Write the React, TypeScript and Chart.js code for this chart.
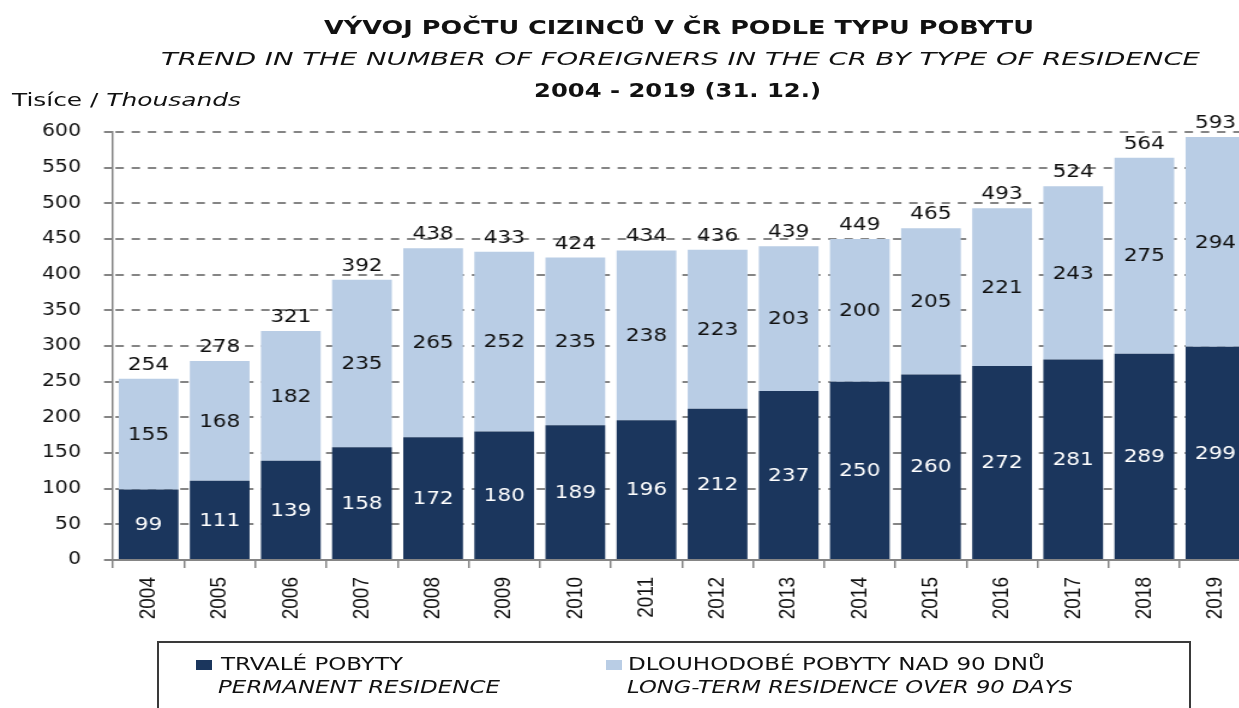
import React, { useEffect, useLayoutEffect, useRef } from "react";
import { Chart, registerables } from "chart.js";

Chart.register(...registerables);

const years = ["2004", "2005", "2006", "2007", "2008", "2009", "2010", "2011", "2012", "2013", "2014", "2015", "2016", "2017", "2018", "2019"];
const permanent = [99, 111, 139, 158, 172, 180, 189, 196, 212, 237, 250, 260, 272, 281, 289, 299];
const longTerm = [155, 168, 182, 235, 265, 252, 235, 238, 223, 203, 200, 205, 221, 243, 275, 294];
const totals = [254, 278, 321, 392, 438, 433, 424, 434, 436, 439, 449, 465, 493, 524, 564, 593];

const titleCz = "VÝVOJ POČTU CIZINCŮ V ČR PODLE TYPU POBYTU";
const titleEn = "TREND IN THE NUMBER OF FOREIGNERS IN THE CR BY TYPE OF RESIDENCE";
const titlePeriod = "2004 - 2019 (31. 12.)";
const unitCz = "Tisíce / ";
const unitEn = "Thousands";
const legendCz = ["TRVALÉ POBYTY", "DLOUHODOBÉ POBYTY NAD 90 DNŮ"];
const legendEn = ["PERMANENT RESIDENCE", "LONG-TERM RESIDENCE OVER 90 DAYS"];

const DARK = "#1B365D";
const LIGHT = "#B9CDE5";
const GRID = "#858585";
const SX = 1.2;
const FONT = "'DejaVu Sans', Verdana, sans-serif";

const dashedGridPlugin = {
  id: "dashedGrid",
  beforeDatasetsDraw(chart: any) {
    const ctx = chart.ctx;
    const y = chart.scales.y;
    const area = chart.chartArea;
    ctx.save();
    ctx.strokeStyle = GRID;
    ctx.lineWidth = 2;
    ctx.setLineDash([7, 6.5]);
    y.ticks.forEach((t: any) => {
      if (t.value === 0) return;
      const py = Math.round(y.getPixelForValue(t.value));
      ctx.beginPath();
      ctx.moveTo(area.left + 2, py);
      ctx.lineTo(area.right, py);
      ctx.stroke();
    });
    ctx.restore();
  },
};

const labelPlugin = {
  id: "barLabels",
  afterDatasetsDraw(chart: any) {
    const ctx = chart.ctx;
    ctx.save();
    ctx.font = `18px ${FONT}`;
    ctx.textAlign = "center";
    chart.data.datasets.forEach((ds: any, di: number) => {
      const meta = chart.getDatasetMeta(di);
      meta.data.forEach((bar: any, i: number) => {
        const yc = (bar.y + bar.base) / 2;
        ctx.fillStyle = di === 0 ? "#ffffff" : "#111111";
        ctx.textBaseline = "middle";
        ctx.fillText(String(ds.data[i]), bar.x, yc + 1);
      });
    });
    const topMeta = chart.getDatasetMeta(chart.data.datasets.length - 1);
    topMeta.data.forEach((bar: any, i: number) => {
      ctx.fillStyle = "#111111";
      ctx.textBaseline = "alphabetic";
      ctx.fillText(String(totals[i]), bar.x, bar.y - 9);
    });
    ctx.restore();
  },
};

function FitText({ left, top, width, style, children }: any) {
  const ref = useRef<HTMLSpanElement>(null);
  useLayoutEffect(() => {
    const el = ref.current;
    if (!el) return;
    el.style.transform = "none";
    const w = el.getBoundingClientRect().width;
    if (w > 0) el.style.transform = `scaleX(${width / w})`;
  }, [width]);
  return (
    <span
      ref={ref}
      style={{
        position: "absolute",
        left,
        top,
        whiteSpace: "nowrap",
        transformOrigin: "0 0",
        lineHeight: 1,
        display: "inline-block",
        fontFamily: FONT,
        color: "#111",
        ...style,
      }}
    >
      {children}
    </span>
  );
}

export default function App() {
  const canvasRef = useRef<HTMLCanvasElement>(null);

  useEffect(() => {
    if (!canvasRef.current) return;
    const chart = new Chart(canvasRef.current, {
      type: "bar",
      data: {
        labels: years,
        datasets: [
          { label: legendCz[0], data: permanent, backgroundColor: DARK, barPercentage: 0.84, categoryPercentage: 1 },
          { label: legendCz[1], data: longTerm, backgroundColor: LIGHT, barPercentage: 0.84, categoryPercentage: 1 },
        ],
      },
      options: {
        responsive: false,
        animation: false,
        layout: { padding: { top: 132, right: 47.5, bottom: 0, left: 0 } },
        plugins: {
          legend: { display: false },
          title: { display: false },
          tooltip: { enabled: false },
        },
        scales: {
          x: {
            stacked: true,
            grid: { display: true, drawOnChartArea: false, drawTicks: true, tickLength: 8, color: GRID, lineWidth: 1.5, offset: true },
            border: { display: true, color: GRID, width: 2 },
            ticks: {
              autoSkip: false,
              maxRotation: 90,
              minRotation: 90,
              padding: 9,
              color: "#111",
              font: { family: "'Liberation Sans', Arial, sans-serif", size: 19 },
            },
            afterFit: (s: any) => {
              s.height = 148;
            },
          },
          y: {
            stacked: true,
            min: 0,
            max: 600,
            ticks: { stepSize: 50, padding: 19.2, color: "#111", font: { family: FONT, size: 17 } },
            grid: { color: GRID, lineWidth: 2, tickLength: 7.5, drawOnChartArea: false, drawTicks: true },
            border: { display: true, color: GRID, width: 1.5 },
            afterFit: (s: any) => {
              s.width = 113 / SX;
            },
          },
        },
      },
      plugins: [dashedGridPlugin, labelPlugin],
    });
    return () => chart.destroy();
  }, []);

  return (
    <div style={{ position: "fixed", left: 0, top: 0, width: 1239, height: 708, overflow: "hidden", background: "#fff" }}>
      <div style={{ position: "absolute", left: 0, top: 0, width: 1090, height: 708, transform: `scaleX(${SX})`, transformOrigin: "0 0" }}>
        <canvas ref={canvasRef} width={1090} height={708} style={{ position: "absolute", left: 0, top: 0 }} />
      </div>

      <FitText left={324} top={17.5} width={710} style={{ fontSize: 19, fontWeight: 700 }}>{titleCz}</FitText>
      <FitText left={161} top={49.9} width={1039} style={{ fontSize: 18, fontStyle: "italic" }}>{titleEn}</FitText>
      <FitText left={534} top={80.8} width={287} style={{ fontSize: 19, fontWeight: 700 }}>{titlePeriod}</FitText>
      <FitText left={12} top={90.9} width={229} style={{ fontSize: 18 }}>
        {unitCz}
        <i>{unitEn}</i>
      </FitText>

      <div style={{ position: "absolute", left: 156.5, top: 641, width: 1034, height: 100, border: "2px solid #3a3a3a", boxSizing: "border-box" }} />
      <div style={{ position: "absolute", left: 196, top: 660, width: 16, height: 10, background: DARK }} />
      <div style={{ position: "absolute", left: 605.5, top: 660, width: 16, height: 10, background: LIGHT }} />
      <FitText left={221} top={654.9} width={182} style={{ fontSize: 18 }}>{legendCz[0]}</FitText>
      <FitText left={218} top={677.8} width={282} style={{ fontSize: 18, fontStyle: "italic" }}>{legendEn[0]}</FitText>
      <FitText left={628.4} top={654.9} width={417} style={{ fontSize: 18 }}>{legendCz[1]}</FitText>
      <FitText left={626.5} top={677.8} width={446} style={{ fontSize: 18, fontStyle: "italic" }}>{legendEn[1]}</FitText>
    </div>
  );
}
